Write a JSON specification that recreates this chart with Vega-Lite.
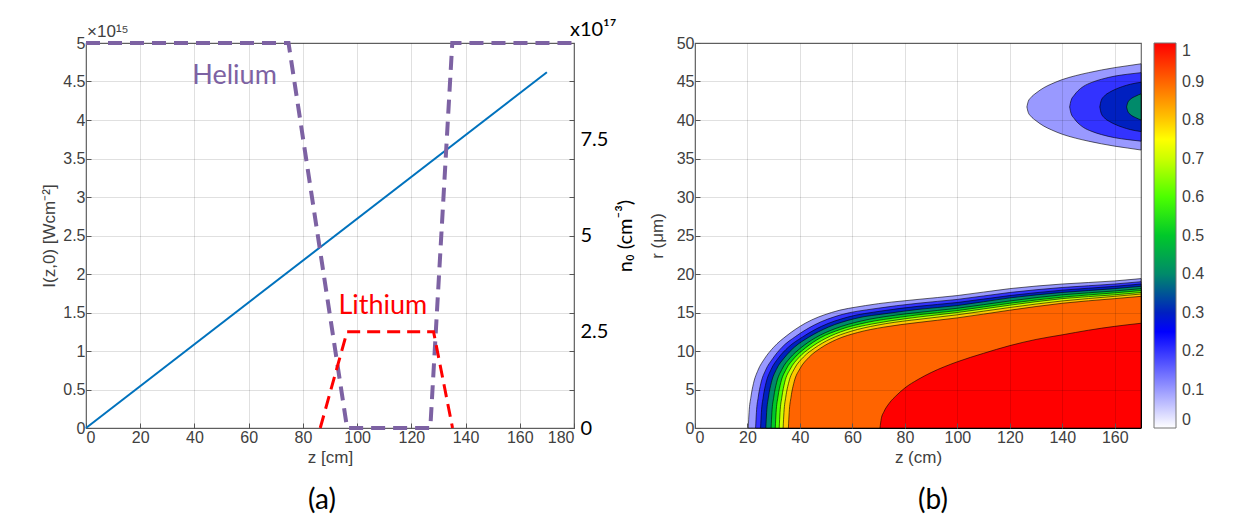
{
"$schema": "https://vega.github.io/schema/vega-lite/v6.json",
"background": "white",
"padding": {"left": 40, "top": 19, "right": 5, "bottom": 5},
"bounds": "flush",
"spacing": 121,
"config": {
  "font": "Liberation Sans",
  "view": {"stroke": "#6b6b6b", "strokeWidth": 1.2},
  "axis": {"labelFont": "Liberation Sans", "labelFontSize": 16, "labelColor": "#404040", "titleFont": "Liberation Sans", "titleFontSize": 17, "titleFontWeight": "normal", "titleColor": "#404040", "gridColor": "#000000", "gridOpacity": 0.12, "tickColor": "#555555", "domain": false, "tickSize": -5, "labelPadding": 6}
},
"hconcat": [
{
  "width": 488, "height": 385,
  "title": {"text": "(a)", "orient": "bottom", "font": "Lato", "fontSize": 28, "fontWeight": "normal", "color": "#000000", "offset": 22, "dx": -8},
  "layer": [
    {"data": {"values": [{"z": 0, "I": 0}, {"z": 170, "I": 4.62}]},
     "mark": {"type": "line", "color": "#0072bd", "strokeWidth": 2},
     "encoding": {
       "x": {"field": "z", "type": "quantitative", "scale": {"domain": [0, 180], "nice": false}, "axis": {"values": [0,20,40,60,80,100,120,140,160,180], "title": "z [cm]", "grid": true, "labelOverlap": false}},
       "y": {"field": "I", "type": "quantitative", "scale": {"domain": [0, 5], "nice": false}, "axis": {"orient": "left", "values": [0,0.5,1,1.5,2,2.5,3,3.5,4,4.5,5], "labelExpr": "'' + datum.value", "labelOverlap": false, "title": "I(z,0) [Wcm⁻²]", "grid": true}}
     }},
    {"data": {"values": [{"z": 54.8, "I": 4.57, "label": "Helium"}, {"z": 109.5, "I": 1.58, "label": "Lithium"}]},
     "mark": {"type": "text", "baseline": "middle", "font": "Lato", "fontSize": 27},
     "encoding": {
       "x": {"field": "z", "type": "quantitative"},
       "y": {"field": "I", "type": "quantitative", "scale": {"domain": [0, 5], "nice": false}, "axis": null},
       "text": {"field": "label"},
       "color": {"field": "label", "type": "nominal", "scale": {"domain": ["Helium", "Lithium"], "range": ["#7d62a3", "#ff0000"]}, "legend": null}
     }},
    {"data": {"values": [{"z": 0.4, "I": 5.08, "label": "×10¹⁵"}]},
     "mark": {"type": "text", "align": "left", "baseline": "alphabetic", "font": "Liberation Sans", "fontSize": 17, "color": "#404040"},
     "encoding": {
       "x": {"field": "z", "type": "quantitative"},
       "y": {"field": "I", "type": "quantitative", "scale": {"domain": [0, 5], "nice": false}, "axis": null},
       "text": {"field": "label"}
     }},
    {"data": {"values": [
      {"gas": "Helium", "z": 0, "n": 10}, {"gas": "Helium", "z": 74.7, "n": 10}, {"gas": "Helium", "z": 96.3, "n": 0},
      {"gas": "Helium", "z": 127, "n": 0}, {"gas": "Helium", "z": 135.1, "n": 10}, {"gas": "Helium", "z": 180, "n": 10},
      {"gas": "Lithium", "z": 86.4, "n": 0}, {"gas": "Lithium", "z": 96.3, "n": 2.5}, {"gas": "Lithium", "z": 128.2, "n": 2.5}, {"gas": "Lithium", "z": 135.2, "n": 0}
     ]},
     "mark": {"type": "line"},
     "encoding": {
       "x": {"field": "z", "type": "quantitative"},
       "y": {"field": "n", "type": "quantitative", "scale": {"domain": [0, 10], "nice": false}, "axis": {"orient": "right", "values": [0,1,2,3,4,5,6,7,8,9,10], "labels": false, "title": null, "grid": false}},
       "color": {"field": "gas", "type": "nominal", "scale": {"domain": ["Helium", "Lithium"], "range": ["#7d62a3", "#ff0000"]}, "legend": null},
       "strokeDash": {"field": "gas", "type": "nominal", "scale": {"domain": ["Helium", "Lithium"], "range": [[14, 8], [13, 7]]}, "legend": null},
       "strokeWidth": {"field": "gas", "type": "nominal", "scale": {"domain": ["Helium", "Lithium"], "range": [4, 3]}, "legend": null}
     }},
    {"data": {"values": [{"z": 178.5, "n": 10.18, "label": "x10¹⁷"}]},
     "mark": {"type": "text", "align": "left", "baseline": "alphabetic", "font": "Lato", "fontSize": 20, "color": "#000000"},
     "encoding": {
       "x": {"field": "z", "type": "quantitative"},
       "y": {"field": "n", "type": "quantitative", "scale": {"domain": [0, 10], "nice": false}, "axis": {"orient": "right", "values": [0, 2.5, 5, 7.5], "labelExpr": "'' + datum.value", "ticks": false, "grid": false, "labelFont": "Lato", "labelFontSize": 20, "labelColor": "#000000", "labelPadding": 6, "labelOverlap": false, "title": "n₀ (cm⁻³)", "titleAngle": 270, "titleBaseline": "top", "titlePadding": 8, "titleFont": "Lato", "titleFontSize": 20, "titleColor": "#000000"}},
       "text": {"field": "label"}
     }}
  ],
  "resolve": {"scale": {"y": "independent", "color": "independent"}}
},
{
  "width": 446, "height": 385,
  "title": {"text": "(b)", "orient": "bottom", "font": "Lato", "fontSize": 28, "fontWeight": "normal", "color": "#000000", "offset": 22, "dx": 15},
  "data": {"values": [
    {"id":"L1","level":0.1,"z":20.3,"lo":0,"hi":0},{"id":"L1","level":0.1,"z":20.6,"lo":0,"hi":2},{"id":"L1","level":0.1,"z":21.3,"lo":0,"hi":4},{"id":"L1","level":0.1,"z":22.3,"lo":0,"hi":5.8},{"id":"L1","level":0.1,"z":24,"lo":0,"hi":7.5},{"id":"L1","level":0.1,"z":26.5,"lo":0,"hi":9},{"id":"L1","level":0.1,"z":30,"lo":0,"hi":10.5},{"id":"L1","level":0.1,"z":35,"lo":0,"hi":12},{"id":"L1","level":0.1,"z":42,"lo":0,"hi":13.6},{"id":"L1","level":0.1,"z":52,"lo":0,"hi":15},{"id":"L1","level":0.1,"z":65,"lo":0,"hi":15.9},{"id":"L1","level":0.1,"z":85,"lo":0,"hi":16.7},{"id":"L1","level":0.1,"z":100,"lo":0,"hi":17.2},{"id":"L1","level":0.1,"z":120,"lo":0,"hi":18.1},{"id":"L1","level":0.1,"z":140,"lo":0,"hi":18.7},{"id":"L1","level":0.1,"z":160,"lo":0,"hi":19.1},{"id":"L1","level":0.1,"z":170,"lo":0,"hi":19.4},
    {"id":"L2","level":0.2,"z":23.1,"lo":0,"hi":0},{"id":"L2","level":0.2,"z":23.4,"lo":0,"hi":2},{"id":"L2","level":0.2,"z":24.1,"lo":0,"hi":4},{"id":"L2","level":0.2,"z":25.1,"lo":0,"hi":5.8},{"id":"L2","level":0.2,"z":26.9,"lo":0,"hi":7.5},{"id":"L2","level":0.2,"z":29.6,"lo":0,"hi":9},{"id":"L2","level":0.2,"z":33.2,"lo":0,"hi":10.5},{"id":"L2","level":0.2,"z":38.4,"lo":0,"hi":11.9},{"id":"L2","level":0.2,"z":45.6,"lo":0,"hi":13.4},{"id":"L2","level":0.2,"z":55.6,"lo":0,"hi":14.7},{"id":"L2","level":0.2,"z":68.6,"lo":0,"hi":15.5},{"id":"L2","level":0.2,"z":85,"lo":0,"hi":16.2},{"id":"L2","level":0.2,"z":100,"lo":0,"hi":16.7},{"id":"L2","level":0.2,"z":120,"lo":0,"hi":17.6},{"id":"L2","level":0.2,"z":140,"lo":0,"hi":18.25},{"id":"L2","level":0.2,"z":160,"lo":0,"hi":18.7},{"id":"L2","level":0.2,"z":170,"lo":0,"hi":19.0},
    {"id":"L3","level":0.3,"z":25.0,"lo":0,"hi":0},{"id":"L3","level":0.3,"z":25.3,"lo":0,"hi":2},{"id":"L3","level":0.3,"z":26.0,"lo":0,"hi":4},{"id":"L3","level":0.3,"z":27.1,"lo":0,"hi":5.9},{"id":"L3","level":0.3,"z":29.0,"lo":0,"hi":7.6},{"id":"L3","level":0.3,"z":31.8,"lo":0,"hi":9.1},{"id":"L3","level":0.3,"z":35.6,"lo":0,"hi":10.5},{"id":"L3","level":0.3,"z":40.9,"lo":0,"hi":11.8},{"id":"L3","level":0.3,"z":48.2,"lo":0,"hi":13.2},{"id":"L3","level":0.3,"z":58.2,"lo":0,"hi":14.4},{"id":"L3","level":0.3,"z":71.2,"lo":0,"hi":15.2},{"id":"L3","level":0.3,"z":85,"lo":0,"hi":15.8},{"id":"L3","level":0.3,"z":100,"lo":0,"hi":16.3},{"id":"L3","level":0.3,"z":120,"lo":0,"hi":17.2},{"id":"L3","level":0.3,"z":140,"lo":0,"hi":17.9},{"id":"L3","level":0.3,"z":160,"lo":0,"hi":18.4},{"id":"L3","level":0.3,"z":170,"lo":0,"hi":18.7},
    {"id":"L4","level":0.4,"z":27.0,"lo":0,"hi":0},{"id":"L4","level":0.4,"z":27.3,"lo":0,"hi":2},{"id":"L4","level":0.4,"z":28.0,"lo":0,"hi":4},{"id":"L4","level":0.4,"z":29.1,"lo":0,"hi":5.9},{"id":"L4","level":0.4,"z":31.0,"lo":0,"hi":7.6},{"id":"L4","level":0.4,"z":34.0,"lo":0,"hi":9.1},{"id":"L4","level":0.4,"z":37.9,"lo":0,"hi":10.5},{"id":"L4","level":0.4,"z":43.4,"lo":0,"hi":11.8},{"id":"L4","level":0.4,"z":50.8,"lo":0,"hi":13.1},{"id":"L4","level":0.4,"z":60.8,"lo":0,"hi":14.2},{"id":"L4","level":0.4,"z":73.8,"lo":0,"hi":14.9},{"id":"L4","level":0.4,"z":85,"lo":0,"hi":15.4},{"id":"L4","level":0.4,"z":100,"lo":0,"hi":15.9},{"id":"L4","level":0.4,"z":120,"lo":0,"hi":16.9},{"id":"L4","level":0.4,"z":140,"lo":0,"hi":17.6},{"id":"L4","level":0.4,"z":160,"lo":0,"hi":18.1},{"id":"L4","level":0.4,"z":170,"lo":0,"hi":18.4},
    {"id":"L5","level":0.5,"z":29.0,"lo":0,"hi":0},{"id":"L5","level":0.5,"z":29.3,"lo":0,"hi":2},{"id":"L5","level":0.5,"z":30.0,"lo":0,"hi":4},{"id":"L5","level":0.5,"z":31.1,"lo":0,"hi":5.9},{"id":"L5","level":0.5,"z":33.1,"lo":0,"hi":7.6},{"id":"L5","level":0.5,"z":36.2,"lo":0,"hi":9.1},{"id":"L5","level":0.5,"z":40.3,"lo":0,"hi":10.4},{"id":"L5","level":0.5,"z":45.8,"lo":0,"hi":11.7},{"id":"L5","level":0.5,"z":53.4,"lo":0,"hi":12.9},{"id":"L5","level":0.5,"z":63.4,"lo":0,"hi":13.9},{"id":"L5","level":0.5,"z":76.4,"lo":0,"hi":14.65},{"id":"L5","level":0.5,"z":85,"lo":0,"hi":15.0},{"id":"L5","level":0.5,"z":100,"lo":0,"hi":15.55},{"id":"L5","level":0.5,"z":120,"lo":0,"hi":16.5},{"id":"L5","level":0.5,"z":140,"lo":0,"hi":17.3},{"id":"L5","level":0.5,"z":160,"lo":0,"hi":17.8},{"id":"L5","level":0.5,"z":170,"lo":0,"hi":18.1},
    {"id":"L6","level":0.6,"z":30.6,"lo":0,"hi":0},{"id":"L6","level":0.6,"z":30.9,"lo":0,"hi":2},{"id":"L6","level":0.6,"z":31.6,"lo":0,"hi":4},{"id":"L6","level":0.6,"z":32.7,"lo":0,"hi":5.9},{"id":"L6","level":0.6,"z":34.7,"lo":0,"hi":7.6},{"id":"L6","level":0.6,"z":37.9,"lo":0,"hi":9.1},{"id":"L6","level":0.6,"z":42.1,"lo":0,"hi":10.4},{"id":"L6","level":0.6,"z":47.7,"lo":0,"hi":11.7},{"id":"L6","level":0.6,"z":55.4,"lo":0,"hi":12.8},{"id":"L6","level":0.6,"z":65.4,"lo":0,"hi":13.7},{"id":"L6","level":0.6,"z":78.4,"lo":0,"hi":14.4},{"id":"L6","level":0.6,"z":85,"lo":0,"hi":14.7},{"id":"L6","level":0.6,"z":100,"lo":0,"hi":15.25},{"id":"L6","level":0.6,"z":120,"lo":0,"hi":16.2},{"id":"L6","level":0.6,"z":140,"lo":0,"hi":17.0},{"id":"L6","level":0.6,"z":160,"lo":0,"hi":17.55},{"id":"L6","level":0.6,"z":170,"lo":0,"hi":17.85},
    {"id":"L7","level":0.7,"z":32.1,"lo":0,"hi":0},{"id":"L7","level":0.7,"z":32.4,"lo":0,"hi":2},{"id":"L7","level":0.7,"z":33.1,"lo":0,"hi":4},{"id":"L7","level":0.7,"z":34.2,"lo":0,"hi":5.95},{"id":"L7","level":0.7,"z":36.3,"lo":0,"hi":7.65},{"id":"L7","level":0.7,"z":39.6,"lo":0,"hi":9.15},{"id":"L7","level":0.7,"z":43.9,"lo":0,"hi":10.4},{"id":"L7","level":0.7,"z":49.6,"lo":0,"hi":11.6},{"id":"L7","level":0.7,"z":57.4,"lo":0,"hi":12.7},{"id":"L7","level":0.7,"z":67.4,"lo":0,"hi":13.5},{"id":"L7","level":0.7,"z":80.4,"lo":0,"hi":14.2},{"id":"L7","level":0.7,"z":85,"lo":0,"hi":14.4},{"id":"L7","level":0.7,"z":100,"lo":0,"hi":15.0},{"id":"L7","level":0.7,"z":120,"lo":0,"hi":15.95},{"id":"L7","level":0.7,"z":140,"lo":0,"hi":16.8},{"id":"L7","level":0.7,"z":160,"lo":0,"hi":17.3},{"id":"L7","level":0.7,"z":170,"lo":0,"hi":17.6},
    {"id":"L8","level":0.8,"z":33.6,"lo":0,"hi":0},{"id":"L8","level":0.8,"z":33.9,"lo":0,"hi":2},{"id":"L8","level":0.8,"z":34.6,"lo":0,"hi":4},{"id":"L8","level":0.8,"z":35.8,"lo":0,"hi":6.0},{"id":"L8","level":0.8,"z":37.9,"lo":0,"hi":7.7},{"id":"L8","level":0.8,"z":41.3,"lo":0,"hi":9.2},{"id":"L8","level":0.8,"z":45.7,"lo":0,"hi":10.4},{"id":"L8","level":0.8,"z":51.5,"lo":0,"hi":11.55},{"id":"L8","level":0.8,"z":59.4,"lo":0,"hi":12.55},{"id":"L8","level":0.8,"z":69.4,"lo":0,"hi":13.35},{"id":"L8","level":0.8,"z":82.4,"lo":0,"hi":14.0},{"id":"L8","level":0.8,"z":85,"lo":0,"hi":14.1},{"id":"L8","level":0.8,"z":100,"lo":0,"hi":14.7},{"id":"L8","level":0.8,"z":120,"lo":0,"hi":15.65},{"id":"L8","level":0.8,"z":140,"lo":0,"hi":16.5},{"id":"L8","level":0.8,"z":160,"lo":0,"hi":17.1},{"id":"L8","level":0.8,"z":170,"lo":0,"hi":17.4},
    {"id":"L9","level":0.9,"z":35.6,"lo":0,"hi":0},{"id":"L9","level":0.9,"z":35.9,"lo":0,"hi":2},{"id":"L9","level":0.9,"z":36.6,"lo":0,"hi":4},{"id":"L9","level":0.9,"z":37.8,"lo":0,"hi":6},{"id":"L9","level":0.9,"z":40,"lo":0,"hi":7.7},{"id":"L9","level":0.9,"z":43.5,"lo":0,"hi":9.2},{"id":"L9","level":0.9,"z":48,"lo":0,"hi":10.4},{"id":"L9","level":0.9,"z":54,"lo":0,"hi":11.5},{"id":"L9","level":0.9,"z":62,"lo":0,"hi":12.4},{"id":"L9","level":0.9,"z":72,"lo":0,"hi":13.1},{"id":"L9","level":0.9,"z":85,"lo":0,"hi":13.7},{"id":"L9","level":0.9,"z":100,"lo":0,"hi":14.3},{"id":"L9","level":0.9,"z":120,"lo":0,"hi":15.3},{"id":"L9","level":0.9,"z":140,"lo":0,"hi":16.2},{"id":"L9","level":0.9,"z":160,"lo":0,"hi":16.8},{"id":"L9","level":0.9,"z":170,"lo":0,"hi":17.1},
    {"id":"L10","level":1.0,"z":70.5,"lo":0,"hi":0},{"id":"L10","level":1.0,"z":71,"lo":0,"hi":1.2},{"id":"L10","level":1.0,"z":72,"lo":0,"hi":2.1},{"id":"L10","level":1.0,"z":74,"lo":0,"hi":3.2},{"id":"L10","level":1.0,"z":77,"lo":0,"hi":4.3},{"id":"L10","level":1.0,"z":80,"lo":0,"hi":5.2},{"id":"L10","level":1.0,"z":85,"lo":0,"hi":6.3},{"id":"L10","level":1.0,"z":90,"lo":0,"hi":7.2},{"id":"L10","level":1.0,"z":100,"lo":0,"hi":8.6},{"id":"L10","level":1.0,"z":110,"lo":0,"hi":9.7},{"id":"L10","level":1.0,"z":120,"lo":0,"hi":10.7},{"id":"L10","level":1.0,"z":130,"lo":0,"hi":11.5},{"id":"L10","level":1.0,"z":140,"lo":0,"hi":12.1},{"id":"L10","level":1.0,"z":150,"lo":0,"hi":12.7},{"id":"L10","level":1.0,"z":160,"lo":0,"hi":13.2},{"id":"L10","level":1.0,"z":170,"lo":0,"hi":13.6},
    {"id":"H1","level":0.1,"z":126.5,"lo":41.7,"hi":41.7},{"id":"H1","level":0.1,"z":127,"lo":41.0,"hi":42.4},{"id":"H1","level":0.1,"z":128,"lo":40.5,"hi":42.9},{"id":"H1","level":0.1,"z":130,"lo":39.9,"hi":43.5},{"id":"H1","level":0.1,"z":133,"lo":39.2,"hi":44.2},{"id":"H1","level":0.1,"z":136,"lo":38.7,"hi":44.7},{"id":"H1","level":0.1,"z":140,"lo":38.15,"hi":45.25},{"id":"H1","level":0.1,"z":145,"lo":37.65,"hi":45.75},{"id":"H1","level":0.1,"z":150,"lo":37.25,"hi":46.15},{"id":"H1","level":0.1,"z":155,"lo":36.9,"hi":46.5},{"id":"H1","level":0.1,"z":160,"lo":36.6,"hi":46.8},{"id":"H1","level":0.1,"z":165,"lo":36.35,"hi":47.05},{"id":"H1","level":0.1,"z":170,"lo":36.1,"hi":47.3},
    {"id":"H2","level":0.2,"z":142.8,"lo":41.7,"hi":41.7},{"id":"H2","level":0.2,"z":143.3,"lo":40.9,"hi":42.5},{"id":"H2","level":0.2,"z":144.5,"lo":40.2,"hi":43.2},{"id":"H2","level":0.2,"z":146,"lo":39.6,"hi":43.8},{"id":"H2","level":0.2,"z":148,"lo":39.05,"hi":44.35},{"id":"H2","level":0.2,"z":151,"lo":38.55,"hi":44.85},{"id":"H2","level":0.2,"z":155,"lo":38.1,"hi":45.3},{"id":"H2","level":0.2,"z":160,"lo":37.7,"hi":45.7},{"id":"H2","level":0.2,"z":165,"lo":37.45,"hi":45.95},{"id":"H2","level":0.2,"z":170,"lo":37.25,"hi":46.15},
    {"id":"H3","level":0.3,"z":154.3,"lo":41.7,"hi":41.7},{"id":"H3","level":0.3,"z":154.8,"lo":40.9,"hi":42.5},{"id":"H3","level":0.3,"z":156,"lo":40.3,"hi":43.1},{"id":"H3","level":0.3,"z":158,"lo":39.8,"hi":43.6},{"id":"H3","level":0.3,"z":160,"lo":39.45,"hi":43.95},{"id":"H3","level":0.3,"z":163,"lo":39.05,"hi":44.35},{"id":"H3","level":0.3,"z":166,"lo":38.75,"hi":44.65},{"id":"H3","level":0.3,"z":170,"lo":38.5,"hi":44.9},
    {"id":"H4","level":0.4,"z":164.5,"lo":41.7,"hi":41.7},{"id":"H4","level":0.4,"z":165,"lo":41.1,"hi":42.3},{"id":"H4","level":0.4,"z":166,"lo":40.7,"hi":42.7},{"id":"H4","level":0.4,"z":168,"lo":40.3,"hi":43.1},{"id":"H4","level":0.4,"z":170,"lo":40.0,"hi":43.4}
  ]},
  "mark": {"type": "area", "interpolate": "monotone", "stroke": "#000000", "strokeWidth": 0.6},
  "encoding": {
    "x": {"field": "z", "type": "quantitative", "scale": {"domain": [0, 170], "nice": false}, "axis": {"values": [0,20,40,60,80,100,120,140,160], "title": "z (cm)", "grid": true, "zindex": 1}},
    "y": {"field": "hi", "type": "quantitative", "stack": null, "scale": {"domain": [0, 50], "nice": false}, "axis": {"values": [0,5,10,15,20,25,30,35,40,45,50], "title": "r (μm)", "titlePadding": 10, "grid": true, "zindex": 1}},
    "y2": {"field": "lo"},
    "color": {"field": "level", "type": "quantitative",
      "scale": {"domain": [0, 0.1, 0.2, 0.25, 0.3, 0.4, 0.5, 0.6, 0.7, 0.75, 0.8, 0.9, 1], "range": ["#ffffff", "#9999ff", "#3333ff", "#0000ff", "#0020c0", "#008a6a", "#00c82a", "#4cff00", "#ccff00", "#ffff00", "#ffc800", "#ff6400", "#ff0000"], "interpolate": "rgb"},
      "legend": {"type": "gradient", "direction": "vertical", "gradientLength": 385, "gradientThickness": 22, "values": [0, 0.1, 0.2, 0.3, 0.4, 0.5, 0.6, 0.7, 0.8, 0.9, 1], "labelExpr": "'' + datum.value", "title": null, "offset": 11, "labelFont": "Liberation Sans", "labelFontSize": 16, "labelColor": "#404040", "labelOffset": 6, "labelBaseline": "middle", "gradientStrokeColor": "#777777", "gradientStrokeWidth": 1, "padding": 0}},
    "detail": {"field": "id"}
  }
}
]
}
